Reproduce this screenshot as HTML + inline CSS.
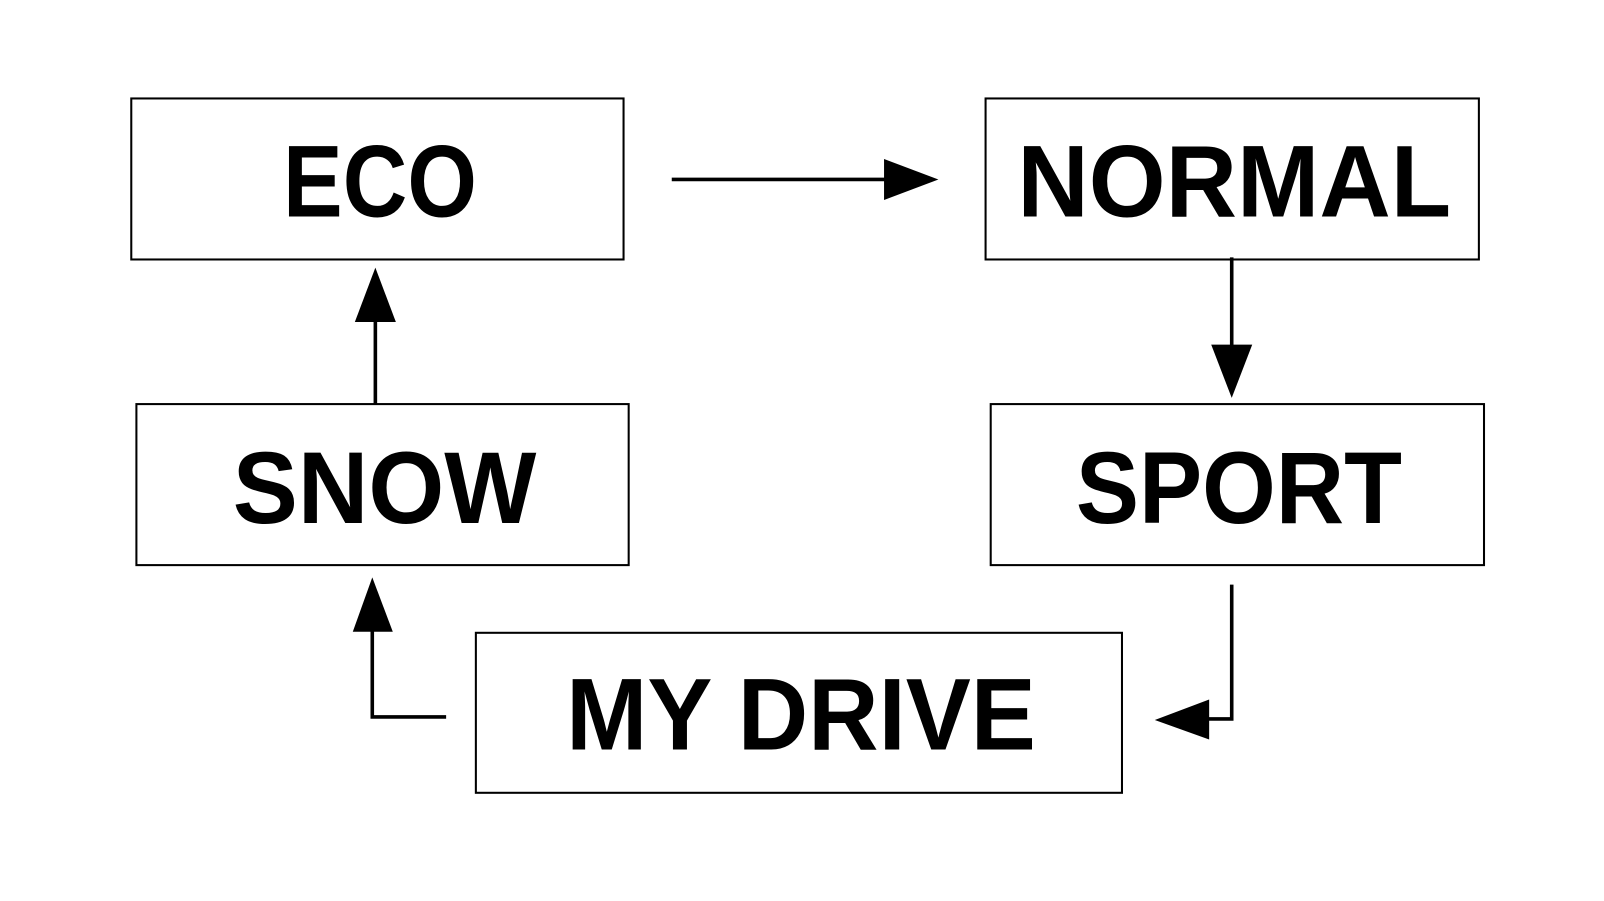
<!DOCTYPE html>
<html><head><meta charset="utf-8"><style>
html,body{margin:0;padding:0;background:#fff;}
svg{display:block;}
text{font-family:"Liberation Sans",sans-serif;font-weight:bold;font-size:100px;fill:#000;}
</style></head><body>
<svg width="1604" height="901" viewBox="0 0 1564 878.5" preserveAspectRatio="none">
<rect width="1564" height="878.5" fill="#fff"/>
<g fill="none" stroke="#000" stroke-width="2">
<rect x="128" y="96" width="480" height="157"/>
<rect x="961" y="96" width="481" height="157"/>
<rect x="133" y="394" width="480" height="157"/>
<rect x="966" y="394" width="481" height="157"/>
<rect x="464" y="617" width="630" height="156"/>
</g>
<g fill="none" stroke="#000" stroke-width="3.5">
<path d="M655 175H864"/>
<path d="M1201 251V338"/>
<path d="M1201 570V701H1177"/>
<path d="M435 699H363V614"/>
<path d="M366 394V312"/>
</g>
<g fill="#000">
<polygon points="862,155 915,175 862,195"/>
<polygon points="1181,336 1221,336 1201,388"/>
<polygon points="1179,682 1179,721 1126,702"/>
<polygon points="344,616 383,616 363,563"/>
<polygon points="346,314 386,314 366,261"/>
</g>
<text x="276" y="211" textLength="189" lengthAdjust="spacingAndGlyphs">ECO</text>
<text x="992" y="211" textLength="423" lengthAdjust="spacingAndGlyphs">NORMAL</text>
<text x="227" y="510" textLength="296" lengthAdjust="spacingAndGlyphs">SNOW</text>
<text x="1049" y="510" textLength="318" lengthAdjust="spacingAndGlyphs">SPORT</text>
<text x="552" y="731" textLength="458" lengthAdjust="spacingAndGlyphs">MY DRIVE</text>
</svg>
</body></html>
